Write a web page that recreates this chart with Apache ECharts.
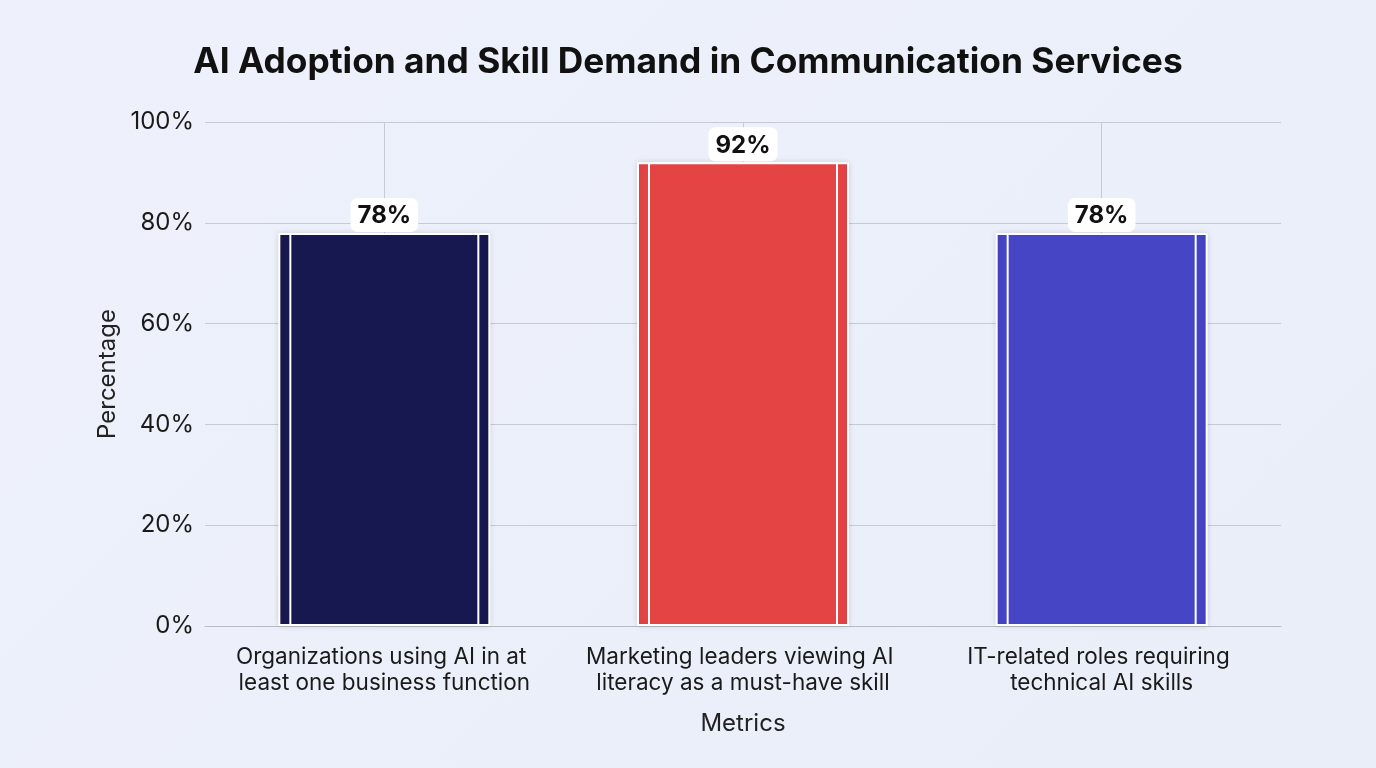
<!DOCTYPE html>
<html>
<head>
<meta charset="utf-8">
<script src="https://cdn.jsdelivr.net/npm/echarts@6/dist/echarts.min.js"></script>
<style>
html, body { margin: 0; padding: 0; }
body { background: linear-gradient(135deg, #eef1fb 0%, #e9eef9 100%); }
#chart { width: 1376px; height: 768px; }
</style>
</head>
<body>
<div id="chart"></div>
<script>
var categories = [
	'Organizations using AI in at least one business function',
	'Marketing leaders viewing AI literacy as a must-have skill',
	'IT-related roles requiring technical AI skills'
];
var values = [78, 92, 78];
var barColors = ['#181850', '#e54444', '#4545c6'];
var yTicks = [0, 20, 40, 60, 80, 100];

var chart = echarts.init(document.getElementById('chart'));
var font = 'Inter, "Noto Sans", sans-serif';

var barData = values.map(function (v, i) {
	return { value: v, itemStyle: { color: barColors[i] } };
});

var option = {
	backgroundColor: 'transparent',
	textStyle: { fontFamily: font },
	title: {
		text: 'AI Adoption and Skill Demand in Communication Services',
		left: 'center',
		top: 40,
		textStyle: { fontSize: 35.3, fontWeight: 'bold', color: '#111', fontFamily: font }
	},
	grid: { left: 205, right: 95, top: 122, bottom: 142 },
	xAxis: [{
		type: 'category',
		data: categories,
		name: 'Metrics',
		nameLocation: 'middle',
		nameGap: 86,
		nameTextStyle: { fontSize: 24, color: '#222' },
		axisLine: { lineStyle: { color: '#b8bcc6' } },
		axisTick: { alignWithLabel: true, length: 7, lineStyle: { color: '#b8bcc6' } },
		axisLabel: {
			fontSize: 22.5, color: '#1a1a1a', lineHeight: 26, margin: 18,
			width: 320, overflow: 'break', interval: 0
		},
		splitLine: { show: true, alignWithLabel: true, lineStyle: { color: '#c6cad4' } }
	}, {
		type: 'category',
		data: categories,
		show: false
	}],
	yAxis: {
		type: 'value',
		min: 0,
		max: 100,
		interval: 20,
		name: 'Percentage',
		nameLocation: 'middle',
		nameGap: 84,
		nameTextStyle: { fontSize: 24, color: '#222' },
		axisLine: { show: false },
		axisTick: { show: false },
		axisLabel: {
			fontSize: 24, color: '#1a1a1a', margin: 11,
			formatter: function (v) { return yTicks.indexOf(v) >= 0 ? v + '%' : ''; }
		},
		splitLine: { lineStyle: { color: '#c6cad4' } }
	},
	series: [{
		type: 'bar',
		xAxisIndex: 0,
		barWidth: 212,
		data: barData,
		itemStyle: {
			borderColor: '#ffffff', borderWidth: 2,
			shadowBlur: 6, shadowColor: 'rgba(0,0,0,0.12)'
		},
		silent: true
	}, {
		type: 'bar',
		xAxisIndex: 1,
		barWidth: 190,
		data: barData,
		itemStyle: { borderColor: '#ffffff', borderWidth: 2 },
		label: {
			show: true,
			position: 'top',
			distance: 1,
			formatter: '{c}%',
			fontSize: 24,
			fontWeight: 'bold',
			color: '#111',
			backgroundColor: '#ffffff',
			borderRadius: 7,
			padding: [6, 7, 4, 7]
		}
	}]
};

chart.setOption(option);
</script>
</body>
</html>
